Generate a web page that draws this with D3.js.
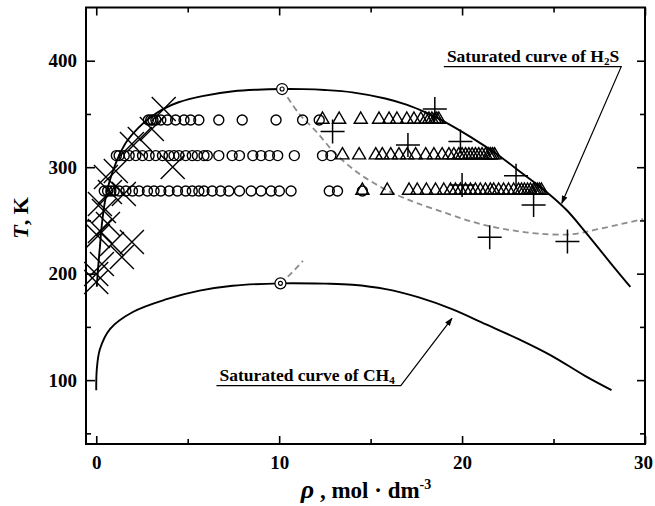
<!DOCTYPE html>
<html>
<head>
<meta charset="utf-8">
<script src="https://cdn.jsdelivr.net/npm/d3@7/dist/d3.min.js"></script>
<style>
	body { margin: 0; background: #ffffff; }
	text { font-family: "Liberation Serif", "Times New Roman", serif; font-weight: bold; }
</style>
</head>
<body>
<div id="chart"></div>
<script>

// isotherms of the measured rows (K)
const isotherms = [277.6, 310.9, 344.3];

// open circles, density on each isotherm
const circleRho277 = [0.44, 0.62, 0.80, 0.98, 1.25, 1.62, 1.98, 2.34, 2.80, 3.16, 3.53, 3.98, 4.44, 4.89, 5.25, 5.61, 5.89, 6.34, 6.80, 7.25, 7.83, 8.47, 9.01, 9.56, 10.01, 10.65, 12.74, 13.19, 14.55];
const circleRho311 = [1.10, 1.25, 1.53, 1.80, 2.16, 2.53, 2.89, 3.25, 3.62, 3.98, 4.25, 4.52, 4.89, 5.25, 5.53, 5.89, 6.07, 6.70, 7.43, 7.83, 8.56, 9.01, 9.47, 9.92, 10.83, 12.37, 12.83];
const circleRho344 = [2.85, 2.98, 3.10, 3.26, 3.53, 3.89, 4.34, 4.80, 5.16, 5.61, 6.70, 7.98, 9.83, 11.28, 12.19];

// open triangles, density on each isotherm
const triangleRho277 = [14.55, 15.91, 17.10, 17.55, 18.05, 18.55, 19.00, 19.37, 19.64, 19.91, 20.19, 20.46, 20.73, 21.00, 21.28, 21.55, 21.73, 22.00, 22.27, 22.54, 22.82, 23.09, 23.25, 23.41, 23.58, 23.74, 23.91, 24.01, 24.12, 24.23, 24.34];
const triangleRho311 = [13.46, 14.37, 15.28, 15.64, 16.10, 16.55, 17.00, 17.46, 18.01, 18.46, 18.91, 19.28, 19.55, 19.82, 20.00, 20.19, 20.37, 20.55, 20.73, 20.91, 21.09, 21.28, 21.46, 21.56, 21.67, 21.78];
const triangleRho344 = [12.37, 13.28, 14.46, 15.46, 16.01, 16.44, 16.98, 17.37, 17.75, 18.02, 18.19, 18.35, 18.51, 18.62, 18.73];

// X markers
const crossRho = [3.69, 3.04, 2.38, 1.95, 4.18, 1.07, 0.53, 0.75, 1.51, 0.20, 0.64, 0.09, 0.86, 1.95, 1.40, 0.31, 0.0, 0.0, 0.20, 0.42];
const crossT = [354.6, 335.8, 326.4, 321.7, 300.1, 296.4, 290.7, 276.6, 274.8, 265.4, 246.6, 235.3, 227.8, 229.7, 215.6, 209.0, 199.6, 192.1, 240.0, 258.8];

// + markers
const plusRho = [12.92, 18.51, 17.04, 19.91, 22.95, 20.00, 23.91, 21.51, 25.76];
const plusT = [333.5, 354.6, 320.8, 324.1, 292.0, 283.2, 264.4, 234.1, 230.1];

// saturated curve of H2S (vapour branch, critical point, liquid branch)
const h2sRho = [0.03, 0.1, 0.2, 0.3, 0.45, 0.62, 0.9, 1.25, 1.7, 2.3, 2.9, 3.65, 4.5, 5.8, 7.5, 8.8, 10.16, 11.3, 12.5, 14.0, 15.8, 17.0, 18.0, 18.9, 20.5, 22.0, 23.3, 24.6, 25.7, 26.7, 27.6, 28.4, 29.2];
const h2sT = [187.7, 205, 225, 245, 265, 280, 296, 311, 325, 337, 346, 354.6, 361, 366.8, 371.3, 372.8, 373.4, 373.3, 372.5, 370.3, 364.5, 358.5, 351.5, 344, 328, 311, 294, 277, 260, 240, 221, 204, 187.5];

// saturated curve of CH4
const ch4Rho = [0.0, 0.03, 0.2, 0.75, 2.0, 3.85, 5.65, 7.45, 10.07, 12.5, 14.0, 15.83, 17.64, 19.45, 21.28, 23.09, 24.9, 26.72, 28.17];
const ch4T = [90.5, 110, 129, 148, 164, 176, 184, 188.6, 190.9, 190.6, 189.6, 185.5, 177.7, 166.7, 152.6, 138.5, 122.8, 104.0, 90.6];

// dashed grey lines from the critical points
const h2sDashRho = [10.16, 11.1, 12.0, 13.1, 14.4, 15.6, 16.5, 17.5, 19.1, 20.5, 21.8, 23.0, 24.2, 26.0, 27.5, 29.9];
const h2sDashT = [373.4, 350, 334, 312.3, 293.6, 281, 273.5, 266.5, 257, 249, 243.5, 240, 237.5, 237, 242, 251.3];
const ch4DashRho = [10.07, 10.7, 11.3];
const ch4DashT = [190.9, 201, 212];

// critical points
const criticalRho = [10.16, 10.07];
const criticalT = [373.4, 190.9];

// axis ticks
const xMajor = [0, 10, 20, 30];
const xMinor = [5, 15, 25];
const yMajor = [100, 200, 300, 400];
const yMinor = [50, 150, 250, 350];

const totalWidth = 655;
const totalHeight = 506;
const margin = { top: 7.5, right: 10, bottom: 62, left: 86 };
const width = totalWidth - margin.left - margin.right;
const height = totalHeight - margin.top - margin.bottom;

const svg = d3.select('#chart')
	.append('svg')
	.attr('width', totalWidth)
	.attr('height', totalHeight);

const g = svg.append('g')
	.attr('transform', `translate(${margin.left},${margin.top})`);

const x = d3.scaleLinear().domain([-0.56, 30]).range([0, width]);
const y = d3.scaleLinear().domain([40, 450]).range([height, 0]);

function zip(a, b) {
	return a.map(function (v, i) { return [v, b[i]]; });
}

// axes, ticks inward on all four sides
function styleAxis(sel, fontSize) {
	sel.select('.domain').remove();
	sel.attr('font-family', null).attr('font-size', null);
	sel.selectAll('.tick line').attr('stroke', '#000').attr('stroke-width', 1.6);
	sel.selectAll('.tick text').attr('font-size', fontSize).attr('fill', '#000');
}

const xAxis = g.append('g').attr('transform', `translate(0,${height})`)
	.call(d3.axisBottom(x).tickValues(xMajor).tickSize(-8).tickPadding(12).tickFormat(d3.format('d')))
	.call(styleAxis, 19);
// last label sits on the frame corner, keep it inside the page
xAxis.selectAll('.tick text').filter(function (d) { return d === 30; }).attr('dx', -2);

g.append('g').attr('transform', `translate(0,${height})`)
	.call(d3.axisBottom(x).tickValues(xMinor).tickSize(-5).tickFormat(''))
	.call(styleAxis, 19);
g.append('g')
	.call(d3.axisTop(x).tickValues(xMajor).tickSize(-8).tickFormat(''))
	.call(styleAxis, 19);
g.append('g')
	.call(d3.axisTop(x).tickValues(xMinor).tickSize(-5).tickFormat(''))
	.call(styleAxis, 19);
g.append('g')
	.call(d3.axisLeft(y).tickValues(yMajor).tickSize(-9).tickPadding(9).tickFormat(d3.format('d')))
	.call(styleAxis, 19);
g.append('g')
	.call(d3.axisLeft(y).tickValues(yMinor).tickSize(-5).tickFormat(''))
	.call(styleAxis, 19);
g.append('g').attr('transform', `translate(${width},0)`)
	.call(d3.axisRight(y).tickValues(yMajor).tickSize(-8).tickFormat(''))
	.call(styleAxis, 19);
g.append('g').attr('transform', `translate(${width},0)`)
	.call(d3.axisRight(y).tickValues(yMinor).tickSize(-5).tickFormat(''))
	.call(styleAxis, 19);

g.append('rect')
	.attr('width', width)
	.attr('height', height)
	.attr('fill', 'none')
	.attr('stroke', '#000')
	.attr('stroke-width', 2);

// curves
const line = d3.line()
	.x(function (d) { return x(d[0]); })
	.y(function (d) { return y(d[1]); })
	.curve(d3.curveCatmullRom.alpha(0.5));

const plot = g.append('g');

plot.append('path').attr('d', line(zip(h2sDashRho, h2sDashT)))
	.attr('fill', 'none').attr('stroke', '#8c8c8c').attr('stroke-width', 1.8).attr('stroke-dasharray', '6,4');
plot.append('path').attr('d', line(zip(ch4DashRho, ch4DashT)))
	.attr('fill', 'none').attr('stroke', '#8c8c8c').attr('stroke-width', 1.8).attr('stroke-dasharray', '6,4');
plot.append('path').attr('d', line(zip(h2sRho, h2sT)))
	.attr('fill', 'none').attr('stroke', '#000').attr('stroke-width', 1.9);
plot.append('path').attr('d', line(zip(ch4Rho, ch4T)))
	.attr('fill', 'none').attr('stroke', '#000').attr('stroke-width', 1.9);

// circles and triangles per isotherm
const circleRows = [circleRho277, circleRho311, circleRho344];
const triangleRows = [triangleRho277, triangleRho311, triangleRho344];
const triangle = d3.symbol().type(d3.symbolTriangle).size(74);

circleRows.forEach(function (row, i) {
	plot.append('g').selectAll('circle')
		.data(row)
		.enter().append('circle')
		.attr('cx', function (d) { return x(d); })
		.attr('cy', y(isotherms[i]))
		.attr('r', 5)
		.attr('fill', 'none')
		.attr('stroke', '#000')
		.attr('stroke-width', 1.4);
});

triangleRows.forEach(function (row, i) {
	plot.append('g').selectAll('path')
		.data(row)
		.enter().append('path')
		.attr('d', triangle)
		.attr('transform', function (d) { return `translate(${x(d)},${y(isotherms[i]) - 0.5})`; })
		.attr('fill', 'none')
		.attr('stroke', '#000')
		.attr('stroke-width', 1.4);
});

plot.append('g').selectAll('path')
	.data(zip(crossRho, crossT))
	.enter().append('path')
	.attr('d', 'M-12,-12L12,12M-12,12L12,-12')
	.attr('transform', function (d) { return `translate(${x(d[0])},${y(d[1])})`; })
	.attr('stroke', '#000')
	.attr('stroke-width', 1.4);

plot.append('g').selectAll('path')
	.data(zip(plusRho, plusT))
	.enter().append('path')
	.attr('d', 'M-12,0H12M0,-12V12')
	.attr('transform', function (d) { return `translate(${x(d[0])},${y(d[1])})`; })
	.attr('stroke', '#000')
	.attr('stroke-width', 1.5);

// critical points: ring with a small inner ring
const crit = plot.append('g').selectAll('g')
	.data(zip(criticalRho, criticalT))
	.enter().append('g')
	.attr('transform', function (d) { return `translate(${x(d[0])},${y(d[1])})`; });
crit.append('circle').attr('r', 5.5).attr('fill', '#fff').attr('stroke', '#000').attr('stroke-width', 1.2);
crit.append('circle').attr('r', 2).attr('fill', 'none').attr('stroke', '#000').attr('stroke-width', 1.1);

// annotations
svg.append('defs').append('marker')
	.attr('id', 'arrow')
	.attr('viewBox', '0 0 10 10')
	.attr('refX', 9).attr('refY', 5)
	.attr('markerWidth', 7).attr('markerHeight', 7)
	.attr('orient', 'auto')
	.append('path')
	.attr('d', 'M0,1.5L10,5L0,8.5z')
	.attr('fill', '#000');

function annotate(textX, underline, tip, label, sub) {
	const t = g.append('text')
		.attr('x', x(textX))
		.attr('y', y(underline[2]) - 5)
		.attr('font-size', 17.5);
	t.append('tspan').text(label);
	t.append('tspan').attr('font-size', 11).attr('dy', 3).text(sub.num);
	t.append('tspan').attr('dy', -3).text(sub.rest);
	g.append('path')
		.attr('d', `M${x(underline[0])},${y(underline[2])}H${x(underline[1])}L${x(tip[0])},${y(tip[1])}`)
		.attr('fill', 'none')
		.attr('stroke', '#000')
		.attr('stroke-width', 1.2)
		.attr('marker-end', 'url(#arrow)');
}

annotate(19.17, [19.0, 28.7, 394.4], [25.45, 266.1], 'Saturated curve of H', { num: '2', rest: 'S' });
annotate(6.74, [6.57, 16.65, 94.8], [19.45, 158.1], 'Saturated curve of CH', { num: '4', rest: '' });

// axis titles
const yTitle = svg.append('text')
	.attr('transform', 'translate(28,218) rotate(-90)')
	.attr('text-anchor', 'middle')
	.attr('font-size', 22);
yTitle.append('tspan').attr('font-style', 'italic').text('T');
yTitle.append('tspan').text(', K');

const xTitle = svg.append('text')
	.attr('x', 366)
	.attr('y', 498)
	.attr('text-anchor', 'middle')
	.attr('font-size', 23);
xTitle.append('tspan').attr('font-style', 'italic').attr('font-size', 26).text('ρ');
xTitle.append('tspan').text(' , mol · dm');
xTitle.append('tspan').attr('font-size', 14).attr('dy', -9).text('-3');

</script>
</body>
</html>
